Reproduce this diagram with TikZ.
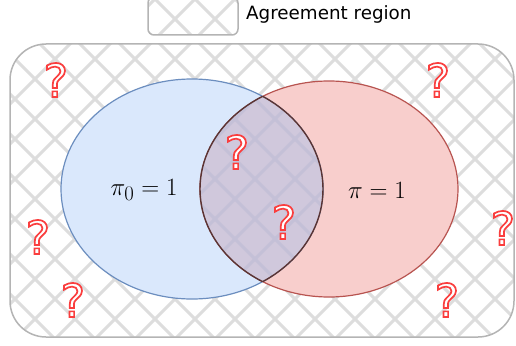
\documentclass[tikz,border=0pt]{standalone}
\usepackage{fontspec}
\newfontfamily\dejavu{DejaVu Sans}
\definecolor{hatchgray}{RGB}{221,221,221}
\definecolor{blueFill}{RGB}{218,232,252}
\definecolor{blueLine}{RGB}{108,142,191}
\definecolor{redFill}{RGB}{248,206,204}
\definecolor{redLine}{RGB}{184,84,80}
\definecolor{midFill}{RGB}{208,200,220}
\definecolor{midHatch}{RGB}{196,192,215}
\definecolor{midLine}{RGB}{90,52,52}
\definecolor{frameGray}{RGB}{180,180,180}
\newcommand{\myhatch}[1]{%
  \foreach \c in {-36,4,...,924} {\draw[line width=3pt,draw=#1] (\c,-10) -- (\c-420,410);}
  \foreach \d in {-414,-374,...,546} {\draw[line width=3pt,draw=#1] (\d,-10) -- (\d+420,410);}
}
\tikzset{
  qmark/.style={inner sep=0pt,font=\dejavu\fontsize{46}{46}\selectfont},
  mathlabel/.style={inner sep=0pt,font=\fontsize{27.5}{32}\selectfont},
  legendtext/.style={inner sep=0pt,anchor=west,font=\dejavu\fontsize{18.3}{22}\selectfont}
}
\newcommand{\qm}{\special{pdf:literal direct 2 Tr 1.7 w 1 1 1 rg 0.98 0.243 0.243 RG}?\special{pdf:literal direct 0 Tr 0.4 w 0 0 0 rg 0 0 0 RG}}
\begin{document}
\begin{tikzpicture}[x=1pt,y=-1pt]
\useasboundingbox (0,0) rectangle (516,345);
% big frame
\begin{scope}
  \clip[rounded corners=36pt] (10,44) rectangle (514,337);
  \fill[white] (0,0) rectangle (516,345);
  \myhatch{hatchgray}
\end{scope}
\draw[frameGray,line width=1.5pt,rounded corners=36pt] (10,44) rectangle (514,337);
% legend box
\begin{scope}
  \clip[rounded corners=6pt] (148,-3) rectangle (238,35);
  \fill[white] (148,-3) rectangle (238,35);
  \myhatch{hatchgray}
\end{scope}
\draw[frameGray,line width=1.5pt,rounded corners=6pt] (148,-3) rectangle (238,35);
\node[legendtext] (legend) at (246,14) {Agreement region};
% ellipses
\fill[blueFill] (192,189) ellipse [x radius=131, y radius=110];
\fill[redFill] (329,189) ellipse [x radius=129, y radius=108];
\draw[blueLine,line width=1.2pt] (192,189) ellipse [x radius=131, y radius=110];
\draw[redLine,line width=1.2pt] (329,189) ellipse [x radius=129, y radius=108];
% intersection
\begin{scope}
  \clip (192,189) ellipse [x radius=131, y radius=110];
  \clip (329,189) ellipse [x radius=129, y radius=108];
  \fill[midFill] (0,0) rectangle (516,345);
  \myhatch{midHatch}
\end{scope}
\begin{scope}
  \clip (192,189) ellipse [x radius=131, y radius=110];
  \draw[midLine,line width=1.4pt] (329,189) ellipse [x radius=129, y radius=108];
\end{scope}
\begin{scope}
  \clip (329,189) ellipse [x radius=129, y radius=108];
  \draw[midLine,line width=1.4pt] (192,189) ellipse [x radius=131, y radius=110];
\end{scope}
% labels
\node[mathlabel] (pi0) at (144,190) {$\pi_0 = 1$};
\node[mathlabel] (pi) at (377,190) {$\pi = 1$};
% question marks
\node[qmark] (q1) at (56,80) {\qm};
\node[qmark] (q2) at (438,80) {\qm};
\node[qmark] (q3) at (237,152) {\qm};
\node[qmark] (q4) at (284,222) {\qm};
\node[qmark] (q5) at (38,237) {\qm};
\node[qmark] (q6) at (503,228) {\qm};
\node[qmark] (q7) at (73,300) {\qm};
\node[qmark] (q8) at (447,300) {\qm};
\end{tikzpicture}
\end{document}
